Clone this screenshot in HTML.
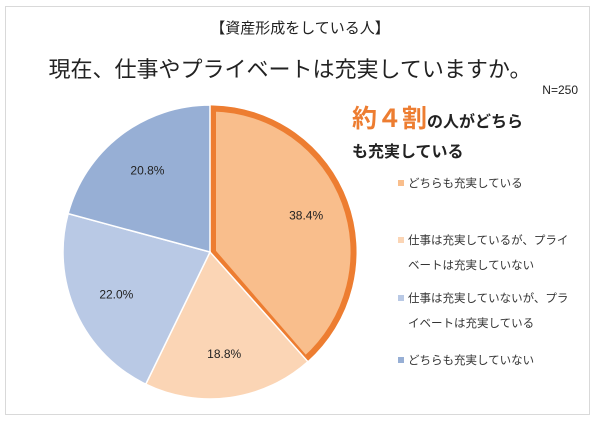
<!DOCTYPE html>
<html><head><meta charset="utf-8"><style>
body{margin:0;background:#fff;width:600px;height:421px;overflow:hidden;font-family:"Liberation Sans","Noto Sans CJK JP",sans-serif;}
</style></head><body>
<svg width="600" height="421" xmlns="http://www.w3.org/2000/svg" style="font-family:'Liberation Sans','Noto Sans CJK JP',sans-serif">
<rect x="5.5" y="6.5" width="584" height="408" fill="#fff" stroke="#d9d9d9"/>
<text x="300" y="33" font-size="15" text-anchor="middle" fill="#222">【資産形成をしている人】</text>
<text x="290" y="77" font-size="22" text-anchor="middle" fill="#222">現在、仕事やプライベートは充実していますか。</text>
<text x="578" y="94" font-size="12" text-anchor="end" fill="#222">N=250</text>
<text x="352" y="127" font-weight="bold" fill="#ED7D31" font-size="25">約４割<tspan font-size="16" fill="#222">の人がどちら</tspan></text>
<text x="352" y="157" font-weight="bold" font-size="16" fill="#222">も充実している</text>
<g id="pie"></g>
<g id="legend"></g>
</svg>
<script>
const categories=["どちらも充実している","仕事は充実しているが、プライベートは充実していない","仕事は充実していないが、プライベートは充実している","どちらも充実していない"];
const values=[38.4,18.8,22.0,20.8];
const labels=["38.4%","18.8%","22.0%","20.8%"];
const legendLines=[["どちらも充実している"],["仕事は充実しているが、プライ","ベートは充実していない"],["仕事は充実していないが、プラ","イベートは充実している"],["どちらも充実していない"]];
const colors=["#F9BE8C","#FBD5B5","#B9C9E5","#97AFD5"];
const NS="http://www.w3.org/2000/svg";
const cx=210,cy=252,r=147;
const pie=document.getElementById('pie');
const total=values.reduce((a,b)=>a+b,0);
let a0=0;
const pt=(a,rr)=>[cx+rr*Math.sin(a),cy-rr*Math.cos(a)];
values.forEach((v,i)=>{
  const a1=a0+v/total*2*Math.PI;
  const p0=pt(a0,r),p1=pt(a1,r);
  const large=(a1-a0)>Math.PI?1:0;
  const p=document.createElementNS(NS,'path');
  p.setAttribute('d',`M${cx},${cy}L${p0[0]},${p0[1]}A${r},${r} 0 ${large} 1 ${p1[0]},${p1[1]}Z`);
  p.setAttribute('fill',colors[i]);p.setAttribute('stroke','#fff');p.setAttribute('stroke-width','1.5');
  
  
  pie.appendChild(p);
  const am=(a0+a1)/2,lp=pt(am,r*0.7);
  const t=document.createElementNS(NS,'text');
  t.setAttribute('x',lp[0]);t.setAttribute('y',lp[1]+4);t.setAttribute('font-size','12');t.setAttribute('text-anchor','middle');t.setAttribute('fill','#222');
  t.textContent=labels[i];
  
  
  pie.appendChild(t);
  if(i===0){
    const ri=r-3.5,q1=pt(a1,ri),c=[cx+3,cy];
    const h=document.createElementNS(NS,'path');
    h.setAttribute('d',`M${c[0]},${c[1]}L${cx+3},${cy-ri}A${ri},${ri} 0 ${large} 1 ${q1[0]},${q1[1]}Z`);
    h.setAttribute('fill','none');h.setAttribute('stroke','#ED7D31');h.setAttribute('stroke-width','6');h.setAttribute('stroke-linejoin','miter');
    
    
    pie.appendChild(h);
  }
  a0=a1;
});
const lg=document.getElementById('legend');
const ly=[187,244,302,364];
legendLines.forEach((lines,i)=>{
  const s=document.createElementNS(NS,'rect');
  s.setAttribute('x',398);s.setAttribute('y',ly[i]-7);s.setAttribute('width',6);s.setAttribute('height',6);s.setAttribute('fill',colors[i]);
  
  
  lg.appendChild(s);
  lines.forEach((ln,j)=>{
    const t=document.createElementNS(NS,'text');
    t.setAttribute('x',408);t.setAttribute('y',ly[i]+j*25);t.setAttribute('font-size','11.5');t.setAttribute('fill','#333');
    t.textContent=ln;
    
    
    lg.appendChild(t);
  });
});
</script>
</body></html>
